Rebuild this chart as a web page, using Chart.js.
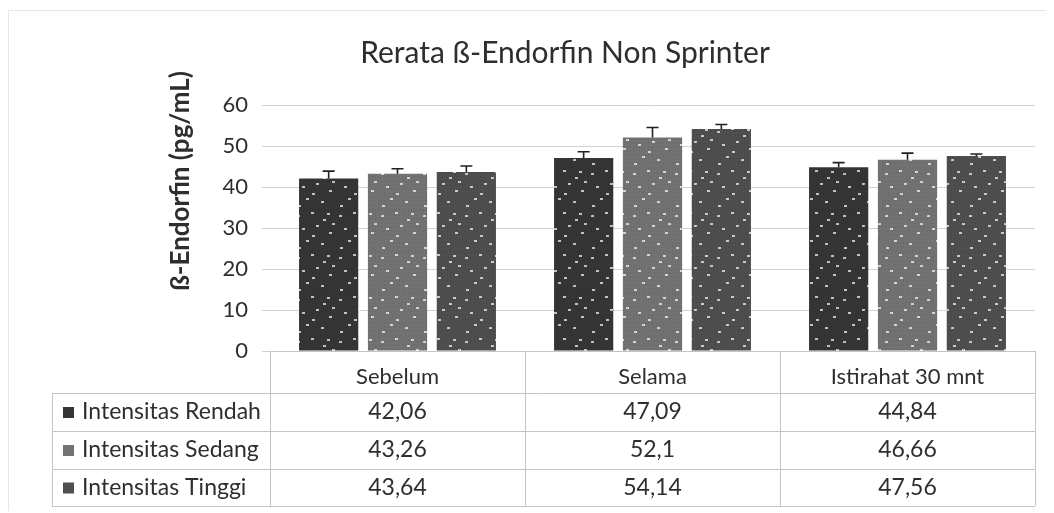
<!DOCTYPE html>
<html>
<head>
<meta charset="utf-8">
<script src="https://cdn.jsdelivr.net/npm/chart.js@4.4.1/dist/chart.umd.min.js"></script>
<style>
  html, body { margin: 0; padding: 0; background: #fff; }
  #wrap { position: relative; width: 1054px; height: 513px; }
</style>
</head>
<body>
<div id="wrap"><canvas id="c" width="1054" height="513"></canvas></div>
<script>
const categories = ["Sebelum", "Selama", "Istirahat 30 mnt"];
const seriesNames = ["Intensitas Rendah", "Intensitas Sedang", "Intensitas Tinggi"];
const rendah = [42.06, 47.09, 44.84];
const sedang = [43.26, 52.1, 46.66];
const tinggi = [43.64, 54.14, 47.56];
const errRendah = [1.8, 1.5, 1.1];
const errSedang = [1.2, 2.4, 1.6];
const errTinggi = [1.5, 1.1, 0.5];
const tableLabels = [
  ["42,06", "47,09", "44,84"],
  ["43,26", "52,1", "46,66"],
  ["43,64", "54,14", "47,56"]
];
const yTicks = [0, 10, 20, 30, 40, 50, 60];
const yTitle = "ß-Endorfin (pg/mL)";

const FONT = "Lato, 'Noto Sans', sans-serif";
const TEXT = "#2e2e2e";
const baseColors = ["#353535", "#727272", "#4e4e4e"];

// deterministic speckle texture
const dots = [[3,5],[17,2],[29,9],[8,18],[22,15],[35,22],[12,30],[27,33],[4,37],[33,3],[18,25],[38,13]];
function makePattern(color) {
  const p = document.createElement("canvas");
  p.width = 42; p.height = 42;
  const g = p.getContext("2d");
  g.fillStyle = color; g.fillRect(0, 0, 42, 42);
  g.fillStyle = "rgba(255,255,255,0.7)";
  dots.forEach(([x, y]) => g.fillRect(x, y, 3, 2));
  g.fillStyle = "rgba(0,0,0,0.12)";
  for (let i = 0; i < 42; i += 3) for (let j = (i % 2); j < 42; j += 4) g.fillRect(i, j, 1, 1);
  return g.createPattern(p, "repeat");
}

const frame = {
  id: "frame",
  beforeDraw(chart) {
    const ctx = chart.ctx;
    ctx.save();
    ctx.strokeStyle = "#e6e6e6";
    ctx.lineWidth = 1;
    ctx.beginPath();
    ctx.moveTo(8.5, 511); ctx.lineTo(8.5, 10.5); ctx.lineTo(1046, 10.5);
    ctx.stroke();
    ctx.restore();
  },
  afterDraw(chart) {
    // vertical axis title, placed as in the reference (above the axis centre)
    const ctx = chart.ctx;
    ctx.save();
    ctx.translate(181, 181);
    ctx.rotate(-Math.PI / 2);
    ctx.font = "bold 26px " + FONT;
    ctx.fillStyle = TEXT;
    ctx.textAlign = "center";
    ctx.textBaseline = "middle";
    ctx.fillText(yTitle, 0, 0);
    ctx.restore();
  }
};

const errorBars = {
  id: "errorBars",
  afterDatasetsDraw(chart) {
    const ctx = chart.ctx;
    const y = chart.scales.y;
    ctx.save();
    ctx.strokeStyle = "#222";
    ctx.lineWidth = 1.6;
    chart.data.datasets.forEach((ds, di) => {
      const meta = chart.getDatasetMeta(di);
      meta.data.forEach((bar, i) => {
        const top = y.getPixelForValue(ds.data[i] + ds.errors[i]);
        const base = y.getPixelForValue(ds.data[i]);
        ctx.beginPath();
        ctx.moveTo(bar.x, base);
        ctx.lineTo(bar.x, top);
        ctx.moveTo(bar.x - 6, top);
        ctx.lineTo(bar.x + 6, top);
        ctx.stroke();
      });
    });
    ctx.restore();
  }
};

const dataTable = {
  id: "dataTable",
  afterDraw(chart) {
    const ctx = chart.ctx;
    const xs = chart.scales.x;
    const area = chart.chartArea;
    const n = categories.length;
    const cw = (xs.right - xs.left) / n;
    const tableLeft = 52;
    const headerTop = area.bottom;
    const rowTops = [393, 431, 469];
    const tableBottom = 506;
    ctx.save();
    ctx.strokeStyle = "#c4c4c4";
    ctx.lineWidth = 1;
    ctx.beginPath();
    ctx.moveTo(xs.left, headerTop + 0.5); ctx.lineTo(xs.right, headerTop + 0.5);
    rowTops.concat([tableBottom]).forEach(t => { ctx.moveTo(tableLeft, t + 0.5); ctx.lineTo(xs.right, t + 0.5); });
    for (let i = 0; i <= n; i++) {
      const x = Math.round(xs.left + cw * i) + 0.5;
      ctx.moveTo(x, headerTop); ctx.lineTo(x, tableBottom);
    }
    ctx.moveTo(tableLeft + 0.5, rowTops[0]); ctx.lineTo(tableLeft + 0.5, tableBottom);
    ctx.stroke();

    ctx.font = "23px " + FONT;
    ctx.textBaseline = "middle";
    const bottoms = rowTops.slice(1).concat([tableBottom]);
    seriesNames.forEach((name, r) => {
      const cy = (rowTops[r] + bottoms[r]) / 2;
      ctx.fillStyle = baseColors[r];
      ctx.fillRect(63, cy - 5, 11, 11);
      ctx.fillStyle = TEXT;
      ctx.textAlign = "left";
      ctx.fillText(name, 82, cy);
      ctx.textAlign = "center";
      for (let c = 0; c < n; c++) {
        ctx.fillText(tableLabels[r][c], xs.getPixelForValue(c), cy);
      }
    });
    ctx.restore();
  }
};

const chart = new Chart(document.getElementById("c"), {
  type: "bar",
  data: {
    labels: categories,
    datasets: [
      { label: seriesNames[0], data: rendah, errors: errRendah, backgroundColor: makePattern(baseColors[0]) },
      { label: seriesNames[1], data: sedang, errors: errSedang, backgroundColor: makePattern(baseColors[1]) },
      { label: seriesNames[2], data: tinggi, errors: errTinggi, backgroundColor: makePattern(baseColors[2]) }
    ]
  },
  options: {
    responsive: false,
    animation: false,
    devicePixelRatio: 1,
    layout: { padding: { left: 95, right: 19, top: 0, bottom: 0 } },
    datasets: { bar: { categoryPercentage: 0.81, barPercentage: 0.86 } },
    plugins: {
      legend: { display: false },
      tooltip: { enabled: false },
      title: {
        display: true,
        text: "Rerata ß-Endorfin Non Sprinter",
        color: TEXT,
        font: { family: FONT, size: 30, weight: "normal" },
        padding: { top: 35, bottom: 34 }
      }
    },
    scales: {
      x: {
        grid: { display: false, drawTicks: false },
        border: { display: false },
        ticks: { color: TEXT, font: { family: FONT, size: 22 }, padding: 13 },
        afterFit(s) { s.height = 162; }
      },
      y: {
        min: 0, max: 60,
        afterBuildTicks(s) { s.ticks = yTicks.map(v => ({ value: v })); },
        grid: { color: "#d2d2d2", tickLength: 8 },
        border: { display: false },
        ticks: { color: TEXT, font: { family: FONT, size: 22 }, padding: 14 },
        title: { display: false },
        afterFit(s) { s.width = 175; }
      }
    }
  },
  plugins: [frame, errorBars, dataTable]
});
</script>
</body>
</html>
